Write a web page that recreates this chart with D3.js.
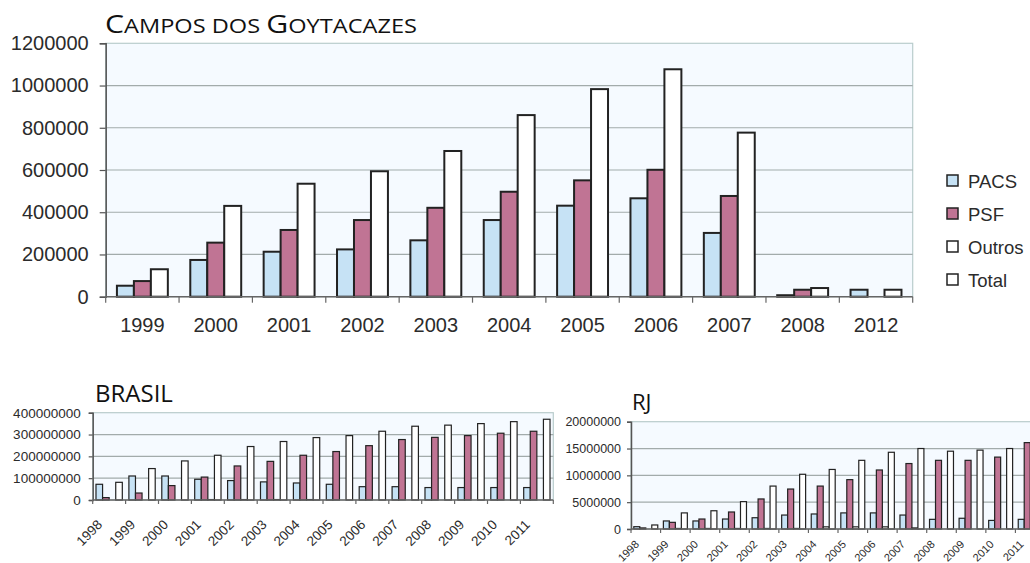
<!DOCTYPE html>
<html>
<head>
<meta charset="utf-8">
<script src="https://cdn.jsdelivr.net/npm/d3@7"></script>
<style>
  body { margin: 0; background: #fff; }
  svg { display: block; }
  .num { font-family: "Liberation Sans", Arial, sans-serif; fill: #2b2b2b; }
  .ttl { font-family: "Open Sans", sans-serif; fill: #111; }
</style>
</head>
<body>
<svg id="chart"></svg>
<script>
//SET UP THE CANVAS
var w = 1030;
var h = 563;

var svg = d3.select("#chart")
     .attr("width", w)
     .attr("height", h)
     .style("background-color", "white");

//DATA
var seriesNames = ["PACS", "PSF", "Outros", "Total"];
var seriesColors = ["#c6e2f5", "#c07494", "#ffffff", "#ffffff"];

// Campos dos Goytacazes
var campYears = ["1999", "2000", "2001", "2002", "2003", "2004", "2005", "2006", "2007", "2008", "2012"];
var campPACS = [52000, 174000, 213000, 224000, 267000, 363000, 431000, 466000, 302000, 7000, 33000];
var campPSF = [74000, 256000, 316000, 363000, 421000, 497000, 551000, 601000, 477000, 33000, 0];
var campTotal = [130000, 430000, 535000, 594000, 690000, 860000, 983000, 1077000, 777000, 41000, 33000];
var campTicks = [0, 200000, 400000, 600000, 800000, 1000000, 1200000];

// Brasil
var brYears = ["1998", "1999", "2000", "2001", "2002", "2003", "2004", "2005", "2006", "2007", "2008", "2009", "2010", "2011"];
var brPACS = [72e6, 110e6, 110e6, 95e6, 89e6, 83e6, 78e6, 72e6, 61e6, 61e6, 57e6, 57e6, 57e6, 57e6];
var brPSF = [11e6, 32e6, 66e6, 105e6, 156e6, 177e6, 205e6, 222e6, 249e6, 277e6, 287e6, 295e6, 306e6, 315e6];
var brOutros = [0, 0, 0, 2e6, 2e6, 2e6, 2e6, 0, 0, 0, 0, 0, 0, 0];
var brTotal = [81e6, 144e6, 179e6, 205e6, 245e6, 268e6, 286e6, 295e6, 315e6, 338e6, 343e6, 350e6, 359e6, 370e6];
var brTicks = [0, 100000000, 200000000, 300000000, 400000000];

// RJ
var rjYears = ["1998", "1999", "2000", "2001", "2002", "2003", "2004", "2005", "2006", "2007", "2008", "2009", "2010", "2011"];
var rjPACS = [0.43e6, 1.5e6, 1.5e6, 1.86e6, 2.1e6, 2.6e6, 2.8e6, 3.0e6, 3.0e6, 2.6e6, 1.8e6, 2.0e6, 1.6e6, 1.8e6];
var rjPSF = [0.2e6, 1.24e6, 1.86e6, 3.17e6, 5.6e6, 7.45e6, 8.0e6, 9.2e6, 11.0e6, 12.2e6, 12.8e6, 12.8e6, 13.4e6, 16.1e6];
var rjOutros = [0, 0.1e6, 0.1e6, 0.1e6, 0.1e6, 0.1e6, 0.4e6, 0.4e6, 0.4e6, 0.2e6, 0, 0, 0, 0];
var rjTotal = [0.75e6, 3.0e6, 3.4e6, 5.1e6, 8.0e6, 10.2e6, 11.1e6, 12.8e6, 14.3e6, 15.0e6, 14.5e6, 14.7e6, 15.0e6, 17.5e6];
var rjTicks = [0, 5000000, 10000000, 15000000, 20000000];

var colorScale = d3.scaleOrdinal().domain(seriesNames).range(seriesColors);

////DRAW ONE GROUPED BAR CHART
function drawChart(o) {
     var g = svg.append("g");
     var x0 = d3.scaleBand().domain(o.years).range([o.left, o.right]);
     var step = x0.step();
     var x1 = d3.scaleBand().domain(o.series.map(d => d.name))
          .range([step * o.pad, step * (1 - o.pad)]);
     var y = d3.scaleLinear().domain([0, d3.max(o.ticks)]).range([o.bottom, o.top]);

     // plot background
     g.append("rect")
          .attr("x", o.left).attr("y", o.top)
          .attr("width", o.right - o.left).attr("height", o.bottom - o.top)
          .attr("fill", "#f5faff")
          .attr("stroke", "#b9cccc")
          .attr("stroke-width", 1.2);

     // gridlines
     g.selectAll(".grid").data(o.ticks.slice(1, -1)).enter()
          .append("line")
          .attr("x1", o.left).attr("x2", o.right)
          .attr("y1", d => y(d)).attr("y2", d => y(d))
          .attr("stroke", "#a2abab")
          .attr("stroke-width", 1.2);

     // bars
     var rows = [];
     o.series.forEach(function (s) {
          s.values.forEach(function (v, i) {
               if (v > 0) rows.push({ name: s.name, year: o.years[i], v: v });
          });
     });
     g.selectAll(".bar").data(rows).enter()
          .append("rect")
          .attr("x", d => x0(d.year) + x1(d.name))
          .attr("y", d => y(d.v))
          .attr("width", x1.bandwidth())
          .attr("height", d => y(0) - y(d.v))
          .attr("fill", d => colorScale(d.name))
          .attr("stroke", "#222")
          .attr("stroke-width", o.barStroke);

     // y axis
     var yAxis = g.append("g")
          .attr("transform", "translate(" + o.left + ",0)")
          .call(d3.axisLeft(y).tickValues(o.ticks).tickFormat(d3.format("d"))
               .tickSize(o.tick).tickPadding(o.yPad));
     yAxis.select(".domain").attr("stroke", "#555").attr("stroke-width", 1.5);
     yAxis.selectAll(".tick line").attr("stroke", "#555").attr("stroke-width", 1.2);
     yAxis.selectAll("text").attr("class", "num").style("font-size", o.yFont + "px")
          .attr("fill", null);

     // x axis line and ticks at band edges
     g.append("line")
          .attr("x1", o.left).attr("x2", o.right)
          .attr("y1", y(0)).attr("y2", y(0))
          .attr("stroke", "#666").attr("stroke-width", 1.5);
     g.selectAll(".xt").data(o.years.concat(["end"])).enter()
          .append("line")
          .attr("x1", (d, i) => o.left + i * step).attr("x2", (d, i) => o.left + i * step)
          .attr("y1", y(0)).attr("y2", y(0) + o.tick)
          .attr("stroke", "#666").attr("stroke-width", 1.2);

     // x labels
     var lab = g.selectAll(".xl").data(o.years).enter()
          .append("text")
          .attr("class", "num")
          .style("font-size", o.xFont + "px")
          .text(d => d);
     if (o.rotate) {
          lab.attr("text-anchor", "end")
               .attr("transform", d => "translate(" + (x0(d) + step / 2 + o.labDx) + "," + (y(0) + o.labDy) + ") rotate(-45)");
     } else {
          lab.attr("text-anchor", "middle")
               .attr("x", d => x0(d) + step / 2)
               .attr("y", y(0) + o.labDy);
     }
}

////TITLES
// small caps done by hand: first letter of each word big, the rest smaller
var campTitle = svg.append("text")
     .attr("class", "ttl")
     .attr("x", 105).attr("y", 33)
     .attr("textLength", 312)
     .attr("lengthAdjust", "spacingAndGlyphs");
"Campos dos Goytacazes".split("").forEach(function (ch) {
     var big = ch === ch.toUpperCase() && ch !== " ";
     campTitle.append("tspan")
          .style("font-size", big ? "25px" : "19.5px")
          .text(ch.toUpperCase());
});

svg.append("text").attr("class", "ttl")
     .attr("x", 95).attr("y", 402)
     .style("font-size", "24px")
     .text("BRASIL");

svg.append("text").attr("class", "ttl")
     .attr("x", 632).attr("y", 410)
     .style("font-size", "22px")
     .text("RJ");

drawChart({
     years: campYears,
     series: [
          { name: "PACS", values: campPACS },
          { name: "PSF", values: campPSF },
          { name: "Total", values: campTotal }
     ],
     ticks: campTicks,
     left: 105.7, right: 912.7, top: 43.3, bottom: 296.7,
     pad: 0.153, barStroke: 2, tick: 6, yPad: 11, yFont: 20, xFont: 20,
     rotate: false, labDy: 35
});

drawChart({
     years: brYears,
     series: [
          { name: "PACS", values: brPACS },
          { name: "PSF", values: brPSF },
          { name: "Outros", values: brOutros },
          { name: "Total", values: brTotal }
     ],
     ticks: brTicks,
     left: 92.7, right: 553.3, top: 412.7, bottom: 500,
     pad: 0.1, barStroke: 1.2, tick: 4, yPad: 8, yFont: 13.5, xFont: 13.5,
     rotate: true, labDx: -6, labDy: 25.5
});

drawChart({
     years: rjYears,
     series: [
          { name: "PACS", values: rjPACS },
          { name: "PSF", values: rjPSF },
          { name: "Outros", values: rjOutros },
          { name: "Total", values: rjTotal }
     ],
     ticks: rjTicks,
     left: 631, right: 1045, top: 421.7, bottom: 529,
     pad: 0.095, barStroke: 1.2, tick: 4, yPad: 6, yFont: 12.5, xFont: 11,
     rotate: true, labDx: -6, labDy: 16
});

////LEGEND
var legend = svg.append("g").attr("transform", "translate(947,0)");
var legItems = legend.selectAll(".leg").data(seriesNames).enter()
     .append("g")
     .attr("transform", (d, i) => "translate(0," + (181 + i * 33) + ")");
legItems.append("rect")
     .attr("x", 0).attr("y", -6)
     .attr("width", 11).attr("height", 11)
     .attr("fill", d => colorScale(d))
     .attr("stroke", "#222").attr("stroke-width", 1.5);
legItems.append("text")
     .attr("class", "num")
     .attr("x", 21).attr("y", 6.5)
     .style("font-size", "18.5px")
     .text(d => d);
</script>
</body>
</html>
